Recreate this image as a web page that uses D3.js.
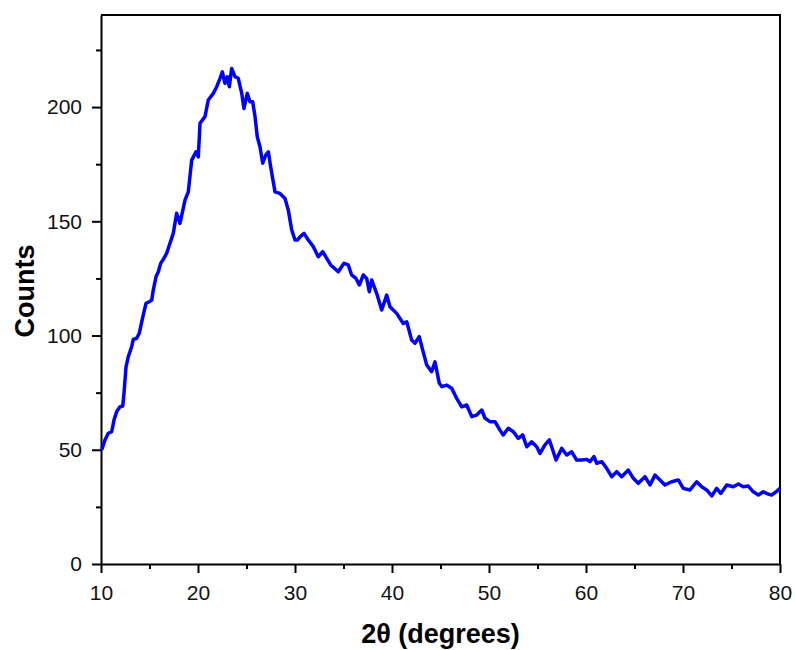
<!DOCTYPE html>
<html>
<head>
<meta charset="utf-8">
<script src="https://cdn.jsdelivr.net/npm/d3@7"></script>
<style>
  body { margin: 0; background: #fff; }
  text { font-family: "Liberation Sans", Arial, sans-serif; }
</style>
</head>
<body>
<div id="chart"></div>
<script>
// 2theta values (degrees)
var twoTheta = [10.07, 10.41, 10.75, 11.10, 11.34, 11.62, 11.96, 12.24, 12.37, 12.58, 12.81, 13.16, 13.33, 13.68, 13.95, 14.09, 14.36, 14.64, 14.98, 15.23, 15.39, 15.67, 15.91, 16.15, 16.49, 16.77, 17.11, 17.45, 17.80, 18.14, 18.66, 19.00, 19.35, 19.79, 20.03, 20.21, 20.72, 21.06, 21.58, 21.93, 22.27, 22.51, 22.78, 23.02, 23.23, 23.47, 23.81, 24.15, 24.51, 24.74, 25.08, 25.36, 25.64, 25.88, 26.11, 26.39, 26.67, 26.98, 27.25, 27.49, 27.94, 28.45, 28.97, 29.31, 29.66, 30.00, 30.24, 30.52, 30.93, 31.37, 31.89, 32.40, 32.86, 33.27, 33.68, 34.46, 35.05, 35.49, 35.84, 36.29, 36.63, 37.04, 37.39, 37.66, 37.91, 38.42, 38.94, 39.45, 39.79, 40.48, 41.16, 41.52, 42.03, 42.37, 42.81, 43.16, 43.58, 44.09, 44.43, 44.88, 45.15, 45.64, 46.15, 46.67, 47.19, 47.70, 48.22, 48.73, 49.25, 49.59, 50.10, 50.62, 51.13, 51.47, 51.99, 52.51, 53.02, 53.47, 53.89, 54.40, 54.92, 55.26, 55.77, 56.22, 56.57, 56.91, 57.49, 58.01, 58.53, 59.04, 59.56, 60.07, 60.41, 60.82, 61.10, 61.62, 62.13, 62.65, 63.17, 63.68, 64.36, 64.88, 65.39, 66.08, 66.60, 67.11, 67.63, 68.14, 68.84, 69.52, 70.03, 70.72, 71.41, 71.93, 72.44, 72.96, 73.47, 73.89, 74.51, 75.19, 75.70, 76.22, 76.73, 77.25, 77.77, 78.28, 78.80, 79.14, 79.59, 80.00];
var counts = [49.9, 54.3, 57.2, 57.9, 63.0, 66.7, 68.8, 69.1, 74.7, 86.3, 90.7, 95.1, 98.3, 98.8, 101.0, 103.9, 109.0, 114.1, 114.8, 115.5, 119.9, 125.7, 127.9, 131.6, 133.8, 136.0, 140.4, 144.7, 153.5, 149.1, 159.3, 162.9, 176.8, 180.4, 178.2, 192.9, 195.8, 203.1, 206.0, 208.9, 212.6, 215.4, 210.4, 213.3, 208.9, 216.9, 213.3, 212.6, 206.0, 199.4, 206.0, 202.3, 202.3, 195.8, 187.0, 182.6, 175.4, 179.0, 180.4, 173.9, 162.9, 162.2, 160.0, 154.9, 146.2, 141.8, 141.8, 143.2, 144.7, 141.8, 138.9, 134.5, 136.7, 133.8, 130.9, 127.9, 131.6, 130.9, 126.5, 125.0, 122.1, 126.5, 125.0, 119.2, 124.3, 118.5, 111.2, 117.7, 112.6, 109.7, 105.3, 106.0, 98.0, 96.6, 99.5, 93.7, 87.1, 84.2, 88.5, 79.1, 77.6, 78.3, 76.9, 72.5, 68.8, 69.6, 64.5, 65.2, 67.4, 63.8, 62.3, 62.3, 58.6, 56.5, 59.4, 57.9, 55.0, 56.5, 51.3, 53.5, 51.3, 48.4, 52.1, 54.3, 49.9, 45.5, 50.6, 47.7, 49.1, 45.5, 45.5, 45.8, 44.8, 47.0, 44.1, 44.8, 41.9, 38.2, 40.4, 38.2, 41.1, 37.5, 35.3, 38.2, 34.6, 38.9, 36.8, 34.6, 36.0, 36.8, 33.1, 32.4, 36.0, 33.8, 32.4, 29.8, 33.1, 30.9, 34.6, 33.8, 35.0, 33.8, 34.1, 31.6, 30.2, 31.6, 30.6, 30.2, 31.6, 33.1];

var xTicks = [10, 20, 30, 40, 50, 60, 70, 80];
var xMinor = [15, 25, 35, 45, 55, 65, 75];
var yTicks = [0, 50, 100, 150, 200];
var yMinor = [25, 75, 125, 175, 225];

var margin = {top: 15, right: 15, bottom: 86, left: 101},
    width = 795 - margin.left - margin.right,
    height = 650 - margin.top - margin.bottom;

var svg = d3.select("#chart")
  .append("svg")
  .attr("width", 795)
  .attr("height", 650)
.append("g")
  .attr("transform", "translate(" + margin.left + "," + margin.top + ")");

var x = d3.scaleLinear().domain([10, 80]).range([0, width]);
var y = d3.scaleLinear().domain([0, 240.3]).range([height, 0]);

// frame (top + right)
svg.append("path")
  .attr("d", "M0,0H" + width + "V" + height)
  .attr("fill", "none")
  .attr("stroke", "#000")
  .attr("stroke-width", 2);

// minor ticks first
svg.append("g")
  .attr("transform", "translate(0," + height + ")")
  .call(d3.axisBottom(x).tickValues(xMinor).tickSize(5).tickFormat(""))
  .call(function(g) { g.select(".domain").remove(); });
svg.append("g")
  .call(d3.axisLeft(y).tickValues(yMinor).tickSize(5).tickFormat(""))
  .call(function(g) { g.select(".domain").remove(); });

var xAxis = svg.append("g")
  .attr("transform", "translate(0," + height + ")")
  .call(d3.axisBottom(x).tickValues(xTicks).tickSize(9).tickSizeOuter(0).tickPadding(12));
var yAxis = svg.append("g")
  .call(d3.axisLeft(y).tickValues(yTicks).tickSize(9).tickSizeOuter(0).tickPadding(10));

svg.selectAll(".tick line").attr("stroke", "#000").attr("stroke-width", 2);
svg.selectAll(".domain").attr("stroke", "#000").attr("stroke-width", 2);
xAxis.selectAll("text").attr("font-size", 21).attr("fill", "#111")
  .attr("font-family", "Liberation Sans, Arial, sans-serif");
yAxis.selectAll("text").attr("font-size", 21).attr("fill", "#111")
  .attr("font-family", "Liberation Sans, Arial, sans-serif");

// the curve
var line = d3.line()
  .x(function(d, i) { return x(twoTheta[i]); })
  .y(function(d) { return y(d); });

svg.append("path")
  .datum(counts)
  .attr("fill", "none")
  .attr("stroke", "#0000ff")
  .attr("stroke-width", 3.5)
  .attr("stroke-linejoin", "round")
  .attr("d", line);

// axis titles
svg.append("text")
  .attr("x", width / 2)
  .attr("y", height + 79)
  .attr("text-anchor", "middle")
  .attr("font-size", 27)
  .attr("font-weight", "bold")
  .text("2θ (degrees)");

svg.append("text")
  .attr("transform", "rotate(-90)")
  .attr("x", -276)
  .attr("y", -67)
  .attr("text-anchor", "middle")
  .attr("font-size", 27)
  .attr("font-weight", "bold")
  .text("Counts");
</script>
</body>
</html>
